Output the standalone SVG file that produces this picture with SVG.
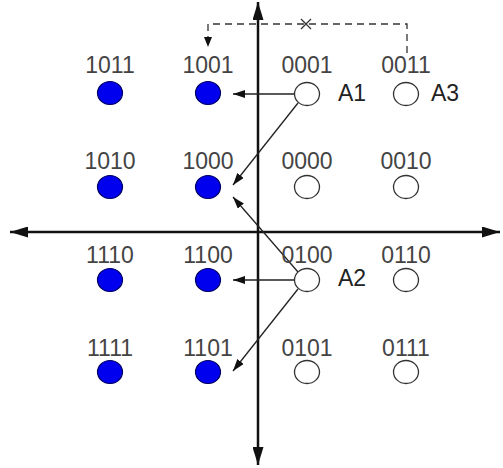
<svg xmlns="http://www.w3.org/2000/svg" width="503" height="468" viewBox="0 0 503 468">
<defs>
<style>
.lbl{font-family:"Liberation Sans",Arial,sans-serif;font-size:23px;fill:#444;text-anchor:middle}
.tag{font-family:"Liberation Sans",Arial,sans-serif;font-size:23px;fill:#222}
.fill{fill:#0000ee;stroke:#000060;stroke-width:1.2}
.open{fill:#fff;stroke:#333;stroke-width:1.3}
.axis{stroke:#111;stroke-width:2.5;fill:none;marker-start:url(#big);marker-end:url(#big)}
.arr{stroke:#222;stroke-width:1.3;fill:none;marker-end:url(#ah)}
.dash{stroke:#333;stroke-width:1.3;fill:none;stroke-dasharray:7,5}
</style>
<marker id="ah" viewBox="0 0 12 8" refX="12" refY="4" markerWidth="12" markerHeight="8" markerUnits="userSpaceOnUse" orient="auto">
<path d="M0,0 L12,4 L0,8 z" fill="#111"/>
</marker>
<marker id="big" viewBox="0 0 18 11" refX="18" refY="5.5" markerWidth="18" markerHeight="11" markerUnits="userSpaceOnUse" orient="auto-start-reverse">
<path d="M0,0 L18,5.5 L0,11 z" fill="#111"/>
</marker>
<marker id="dah" viewBox="0 0 10 8" refX="10" refY="4" markerWidth="10" markerHeight="8" markerUnits="userSpaceOnUse" orient="auto">
<path d="M0,0 L10,4 L0,8 z" fill="#111"/>
</marker>
</defs>
<rect width="503" height="468" fill="#fff"/>
<g id="connectors">
<line class="axis" x1="258" y1="465" x2="258" y2="2"/>
<line class="axis" x1="10" y1="232" x2="500" y2="232"/>
<path class="dash" d="M407,53 L407,24 L208,24 L208,47" marker-end="url(#dah)"/>
<path d="M301,19 L311,29 M311,19 L301,29" stroke="#333" stroke-width="1.3"/>
<line class="arr" x1="294" y1="94" x2="233" y2="94"/>
<line class="arr" x1="298" y1="103" x2="233" y2="185"/>
<line class="arr" x1="298" y1="272" x2="233" y2="197"/>
<line class="arr" x1="294" y1="280" x2="233" y2="280"/>
<line class="arr" x1="298" y1="289" x2="233" y2="371"/>
</g>
<g id="n1011"><ellipse class="fill" cx="110" cy="93" rx="12.5" ry="11.5"/><text class="lbl" x="110" y="73">1011</text></g>
<g id="n1001"><ellipse class="fill" cx="208" cy="93" rx="12.5" ry="11.5"/><text class="lbl" x="208" y="73">1001</text></g>
<g id="n0001"><ellipse class="open" cx="307" cy="94" rx="12.5" ry="11.5"/><text class="lbl" x="307" y="73">0001</text></g>
<g id="n0011"><ellipse class="open" cx="406" cy="94" rx="12.5" ry="11.5"/><text class="lbl" x="406" y="73">0011</text></g>
<g id="n1010"><ellipse class="fill" cx="110" cy="187" rx="12.5" ry="11.5"/><text class="lbl" x="110" y="169">1010</text></g>
<g id="n1000"><ellipse class="fill" cx="208" cy="187" rx="12.5" ry="11.5"/><text class="lbl" x="208" y="169">1000</text></g>
<g id="n0000"><ellipse class="open" cx="307" cy="187" rx="12.5" ry="11.5"/><text class="lbl" x="307" y="169">0000</text></g>
<g id="n0010"><ellipse class="open" cx="406" cy="187" rx="12.5" ry="11.5"/><text class="lbl" x="406" y="169">0010</text></g>
<g id="n1110"><ellipse class="fill" cx="110" cy="280" rx="12.5" ry="11.5"/><text class="lbl" x="110" y="263">1110</text></g>
<g id="n1100"><ellipse class="fill" cx="208" cy="280" rx="12.5" ry="11.5"/><text class="lbl" x="208" y="263">1100</text></g>
<g id="n0100"><ellipse class="open" cx="307" cy="280" rx="12.5" ry="11.5"/><text class="lbl" x="307" y="263">0100</text></g>
<g id="n0110"><ellipse class="open" cx="406" cy="280" rx="12.5" ry="11.5"/><text class="lbl" x="406" y="263">0110</text></g>
<g id="n1111"><ellipse class="fill" cx="110" cy="372" rx="12.5" ry="11.5"/><text class="lbl" x="110" y="356">1111</text></g>
<g id="n1101"><ellipse class="fill" cx="208" cy="372" rx="12.5" ry="11.5"/><text class="lbl" x="208" y="356">1101</text></g>
<g id="n0101"><ellipse class="open" cx="307" cy="372" rx="12.5" ry="11.5"/><text class="lbl" x="307" y="356">0101</text></g>
<g id="n0111"><ellipse class="open" cx="406" cy="372" rx="12.5" ry="11.5"/><text class="lbl" x="406" y="356">0111</text></g>
<g id="tags">
<text class="tag" x="338" y="101">A1</text>
<text class="tag" x="431" y="101">A3</text>
<text class="tag" x="338" y="286">A2</text>
</g>
</svg>
